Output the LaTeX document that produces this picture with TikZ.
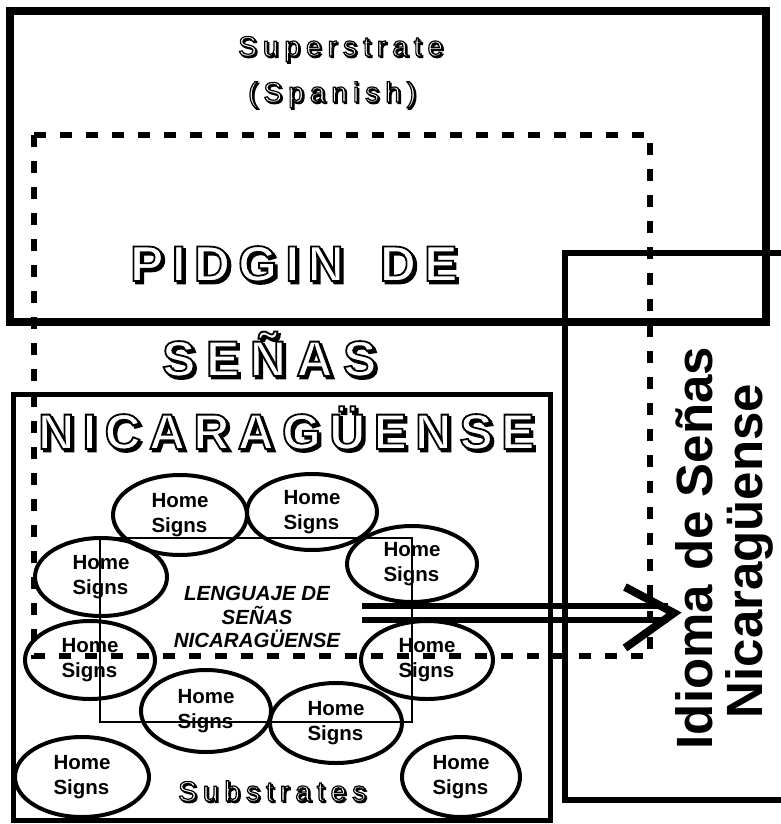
\documentclass[tikz,border=0pt]{standalone}
\usepackage{fontspec}
\setmainfont{Liberation Sans}
\usetikzlibrary{shapes.geometric}
\newcommand{\hollowtxt}[2][1.8]{{\color{white}\special{pdf:literal direct 0 G 2 Tr #1 w}#2\special{pdf:literal direct 0 Tr}}}
\newcommand{\hollowshd}[2][1.8]{\special{pdf:literal direct 0 G 2 Tr #1 w}#2\special{pdf:literal direct 0 Tr}}

\begin{document}
\begin{tikzpicture}[x=1pt,y=-1pt,
  homesign/.style={ellipse, draw, line width=4pt, inner sep=0pt, align=left,
    font=\bfseries\fontsize{20.5}{25}\selectfont},
  bigword/.style={anchor=base west, inner sep=0pt,
    font=\bfseries\fontsize{50}{52}\selectfont\addfontfeatures{LetterSpace=16.5}},
  smallword/.style={anchor=base west, inner sep=0pt,
    font=\fontsize{28}{30}\selectfont\addfontfeatures{LetterSpace=21.5}},
  idioma/.style={rotate=90, anchor=base, inner sep=0pt,
    font=\bfseries\fontsize{51}{52}\selectfont}]
\fill[white] (0,0) rectangle (781,824);
\useasboundingbox (0,0) rectangle (781,824);
\clip (0,0) rectangle (781,824);

\coordinate (tail) at (362,613);
\coordinate (neck) at (668,613);
\coordinate (tip) at (674,613);
\coordinate (barbU) at (625,587);
\coordinate (barbD) at (625,648);
\draw[double, double distance=7.5pt, line width=6pt] (tail) -- (neck);
\draw[line width=8pt, miter limit=4] (barbU) -- (tip) -- (barbD);

\node[smallword] (supS) at (239.5,57.5) {\hollowshd[1.2]{Superstrate}};
\node[smallword] (sup) at (238,56) {\hollowtxt[1.2]{Superstrate}};
\node[smallword] (spanS) at (249.5,103.5) {\hollowshd[1.2]{(Spanish)}};
\node[smallword] (span) at (248,102) {\hollowtxt[1.2]{(Spanish)}};
\node[bigword] (pidginS) at (132.5,283.5) {\hollowshd{PIDGIN\hspace{14pt} DE}};
\node[bigword] (pidgin) at (130,281) {\hollowtxt{PIDGIN\hspace{14pt} DE}};
\node[bigword] (senasS) at (164.5,378.5) {\addfontfeatures{LetterSpace=21}\hollowshd{SEÑAS}};
\node[bigword] (senas) at (162,376) {\addfontfeatures{LetterSpace=21}\hollowtxt{SEÑAS}};
\node[bigword] (nicaS) at (40.5,451.5) {\hollowshd{NICARAGÜENSE}};
\node[bigword] (nica) at (38,449) {\hollowtxt{NICARAGÜENSE}};
\node[smallword] (subS) at (179.5,802.5) {\hollowshd[1.2]{Substrates}};
\node[smallword] (sub) at (178,801) {\hollowtxt[1.2]{Substrates}};

\draw[line width=8pt] (10,11) rectangle (766,322);
\draw[line width=6pt, dash pattern=on 12pt off 14pt] (34,135) rectangle (650,656);
\draw[line width=5pt] (13,394) rectangle (550,820);
\draw[line width=6pt] (565,253) rectangle (790,800);
\draw[line width=1.5pt] (100,538) rectangle (412,722);

\node[align=center, font=\bfseries\itshape\fontsize{20.5}{23.5}\selectfont] (lsn) at (257,617)
  {LENGUAJE DE\\SEÑAS\\NICARAGÜENSE};

\node[homesign, minimum width=134pt, minimum height=80pt] (hs1) at (180,515) {Home\\Signs};
\node[homesign, minimum width=130pt, minimum height=76pt] (hs2) at (312,512) {Home\\Signs};
\node[homesign, minimum width=132pt, minimum height=78pt] (hs3) at (101,577) {Home\\Signs};
\node[homesign, minimum width=130pt, minimum height=76pt] (hs4) at (412,564) {Home\\Signs};
\node[homesign, minimum width=130pt, minimum height=78pt] (hs5) at (90,660) {Home\\Signs};
\node[homesign, minimum width=132pt, minimum height=78pt] (hs6) at (427,660) {Home\\Signs};
\node[homesign, minimum width=130pt, minimum height=82pt] (hs7) at (206,711) {Home\\Signs};
\node[homesign, minimum width=132pt, minimum height=80pt] (hs8) at (336,723) {Home\\Signs};
\node[homesign, minimum width=134pt, minimum height=80pt] (hs9) at (82,777) {Home\\Signs};
\node[homesign, minimum width=118pt, minimum height=80pt] (hs10) at (461,777) {Home\\Signs};

\node[idioma] (idioma1) at (712,548) {Idioma de Señas};
\node[idioma] (idioma2) at (762,551) {Nicaragüense};
\end{tikzpicture}
\end{document}
